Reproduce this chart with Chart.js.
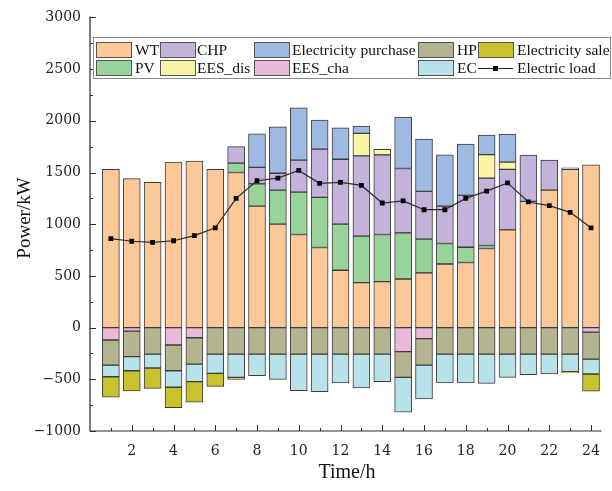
<!DOCTYPE html>
<html>
<head>
<meta charset="utf-8">
<script src="https://cdn.jsdelivr.net/npm/chart.js@4/dist/chart.umd.min.js"></script>
<style>
  html, body { margin: 0; padding: 0; background: #fff; }
  #c { display: block; }
</style>
</head>
<body>
<canvas id="c" width="612" height="491"></canvas>
<script>
// Hourly electric power balance (kW), hours 1..24
const hours = [1, 2, 3, 4, 5, 6, 7, 8, 9, 10, 11, 12, 13, 14, 15, 16, 17, 18, 19, 20, 21, 22, 23, 24];

// Supply side (stacked upward)
const wt       = [1530, 1440, 1405, 1600, 1610, 1530, 1500, 1175, 1000, 900, 775, 555, 435, 445, 470, 530, 615, 630, 765, 945, 1220, 1330, 1530, 1575];
const pv       = [0, 0, 0, 0, 0, 0, 90, 215, 330, 410, 485, 445, 450, 455, 446, 326, 198, 147, 29, 0, 0, 0, 0, 0];
const chp      = [0, 0, 0, 0, 0, 0, 160, 160, 163, 310, 466, 628, 776, 770, 623, 462, 362, 502, 652, 585, 448, 291, 16, 0];
const eesDis   = [0, 0, 0, 0, 0, 0, 0, 0, 0, 0, 0, 0, 218, 54, 0, 0, 0, 0, 227, 71, 0, 0, 0, 0];
const purchase = [0, 0, 0, 0, 0, 0, 0, 324, 448, 505, 282, 304, 70, 0, 498, 505, 495, 495, 188, 271, 0, 0, 0, 0];

// Consumption side (stacked downward)
const eesCha   = [-120, -34, 0, -168, -98, 0, 0, 0, 0, 0, 0, 0, 0, 0, -232, -107, 0, 0, 0, 0, 0, 0, 0, -43];
const hp       = [-243, -246, -257, -249, -255, -257, -257, -257, -257, -257, -257, -257, -257, -257, -249, -256, -257, -257, -257, -257, -257, -257, -257, -262];
const ec       = [-112, -137, -134, -160, -170, -186, -224, -208, -243, -352, -362, -278, -326, -266, -336, -326, -278, -278, -282, -224, -198, -192, -170, -144];
const sale     = [-198, -195, -196, -198, -198, -125, -19, 0, 0, 0, 0, 0, 0, 0, 0, 0, 0, 0, 0, 0, 0, 0, -12, -167];

// Electric load curve
const load     = [860, 835, 825, 840, 890, 965, 1250, 1420, 1445, 1520, 1395, 1405, 1375, 1205, 1225, 1140, 1140, 1250, 1320, 1400, 1215, 1180, 1115, 965];

const yTicks = [-1000, -500, 0, 500, 1000, 1500, 2000, 2500, 3000];

const colors = {
  wt: '#FDC898', pv: '#98D39A', chp: '#C3B2DA', eesDis: '#F9F4A3', purchase: '#9EB9E2',
  eesCha: '#EAB8D9', hp: '#B2B58F', ec: '#B8E2E9', sale: '#C9C22E'
};

const pts = arr => hours.map((h, i) => ({ x: h, y: arr[i] === 0 ? null : arr[i] }));

const barSet = (label, arr, color) => ({
  type: 'bar', label, data: pts(arr), stack: 'power',
  backgroundColor: color, borderColor: '#3d3d3d', borderWidth: 1,
  borderSkipped: false, barThickness: 17
});

const serif = 'Liberation Serif, Times New Roman, serif';

// Legend laid out in columns, plus axis frame with inward ticks and axis titles
const decor = {
  id: 'decor',
  afterDraw(chart) {
    const ctx = chart.ctx;
    const area = chart.chartArea;
    const xs = chart.scales.x, ys = chart.scales.y;
    ctx.save();

    // axis lines
    ctx.strokeStyle = '#2b2b2b';
    ctx.lineWidth = 1.2;
    ctx.beginPath();
    ctx.moveTo(area.left, area.top - 1);
    ctx.lineTo(area.left, area.bottom);
    ctx.lineTo(area.right, area.bottom);
    ctx.stroke();

    // y ticks (major every 500, minor every 250), pointing inward
    ctx.lineWidth = 1;
    ctx.beginPath();
    for (let v = -1000; v <= 3000; v += 250) {
      const y = Math.round(ys.getPixelForValue(v)) + 0.5;
      const len = (v % 500 === 0) ? 6 : 3;
      ctx.moveTo(area.left, y);
      ctx.lineTo(area.left + len, y);
    }
    // x ticks (major at even hours, minor at odd)
    for (const h of hours) {
      const x = Math.round(xs.getPixelForValue(h)) + 0.5;
      const len = (h % 2 === 0) ? 6 : 3;
      ctx.moveTo(x, area.bottom);
      ctx.lineTo(x, area.bottom - len);
    }
    ctx.stroke();

    // axis titles
    ctx.fillStyle = '#111';
    ctx.font = '19px ' + serif;
    ctx.textAlign = 'center';
    ctx.textBaseline = 'middle';
    ctx.save();
    ctx.translate(25, 218);
    ctx.rotate(-Math.PI / 2);
    ctx.fillText('Power/kW', 0, 0);
    ctx.restore();
    ctx.font = '20px ' + serif;
    ctx.fillText('Time/h', 347, 473);

    // legend box
    ctx.fillStyle = '#fff';
    ctx.fillRect(93.5, 37.5, 517, 41);
    ctx.strokeStyle = '#8a8a8a';
    ctx.lineWidth = 1;
    ctx.strokeRect(93.5, 37.5, 517, 41);

    const rows = [42, 60];
    const cols = [96, 160, 254, 418, 478];
    const textX = [135, 197, 292, 457, 517];
    const entries = [
      ['WT', colors.wt, 0, 0], ['PV', colors.pv, 0, 1],
      ['CHP', colors.chp, 1, 0], ['EES_dis', colors.eesDis, 1, 1],
      ['Electricity purchase', colors.purchase, 2, 0], ['EES_cha', colors.eesCha, 2, 1],
      ['HP', colors.hp, 3, 0], ['EC', colors.ec, 3, 1],
      ['Electricity sale', colors.sale, 4, 0]
    ];
    ctx.font = '15.5px ' + serif;
    ctx.textAlign = 'left';
    ctx.textBaseline = 'middle';
    for (const [label, color, c, r] of entries) {
      ctx.fillStyle = color;
      ctx.fillRect(cols[c] + 0.5, rows[r] + 0.5, 35, 15);
      ctx.strokeStyle = '#555';
      ctx.strokeRect(cols[c] + 0.5, rows[r] + 0.5, 35, 15);
      ctx.fillStyle = '#111';
      ctx.fillText(label, textX[c], rows[r] + 8.5);
    }
    // load line sample
    const ly = rows[1] + 8.5;
    ctx.strokeStyle = '#222';
    ctx.lineWidth = 1.2;
    ctx.beginPath();
    ctx.moveTo(478, ly);
    ctx.lineTo(513, ly);
    ctx.stroke();
    ctx.fillStyle = '#000';
    ctx.fillRect(493, ly - 2.5, 5, 5);
    ctx.fillStyle = '#111';
    ctx.fillText('Electric load', textX[4], ly);

    ctx.restore();
  }
};

new Chart(document.getElementById('c'), {
  data: {
    datasets: [
      {
        type: 'line', label: 'Electric load', data: hours.map((h, i) => ({ x: h, y: load[i] })),
        borderColor: '#2a2a2a', borderWidth: 1.2, pointStyle: 'rect', pointRadius: 3.4,
        pointBackgroundColor: '#000', pointBorderColor: '#000', pointBorderWidth: 0,
        tension: 0, order: -1
      },
      barSet('WT', wt, colors.wt),
      barSet('PV', pv, colors.pv),
      barSet('CHP', chp, colors.chp),
      barSet('EES_dis', eesDis, colors.eesDis),
      barSet('Electricity purchase', purchase, colors.purchase),
      barSet('EES_cha', eesCha, colors.eesCha),
      barSet('HP', hp, colors.hp),
      barSet('EC', ec, colors.ec),
      barSet('Electricity sale', sale, colors.sale)
    ]
  },
  options: {
    responsive: false,
    devicePixelRatio: 1,
    animation: false,
    layout: { padding: { top: 14, right: 4, left: 0, bottom: 0 } },
    plugins: { legend: { display: false }, tooltip: { enabled: false } },
    scales: {
      x: {
        type: 'linear', min: 0, max: 24.5, offset: false,
        grid: { display: false, drawTicks: false, offset: false },
        border: { display: false },
        afterBuildTicks: s => { s.ticks = hours.filter(h => h % 2 === 0).map(h => ({ value: h })); },
        afterFit: s => { s.height = 60; },
        ticks: { color: '#222', font: { family: 'DejaVu Serif', size: 14 }, padding: 12, maxRotation: 0, autoSkip: false }
      },
      y: {
        stacked: true, min: -1000, max: 3000,
        grid: { display: false, drawTicks: false },
        border: { display: false },
        afterBuildTicks: s => { s.ticks = yTicks.map(v => ({ value: v })); },
        afterFit: s => { s.width = 90; },
        ticks: {
          color: '#222', font: { family: 'DejaVu Serif', size: 14 }, padding: 9,
          callback: v => (v < 0 ? '\u2212' + Math.abs(v) : String(v))
        }
      }
    }
  },
  plugins: [decor]
});
</script>
</body>
</html>
